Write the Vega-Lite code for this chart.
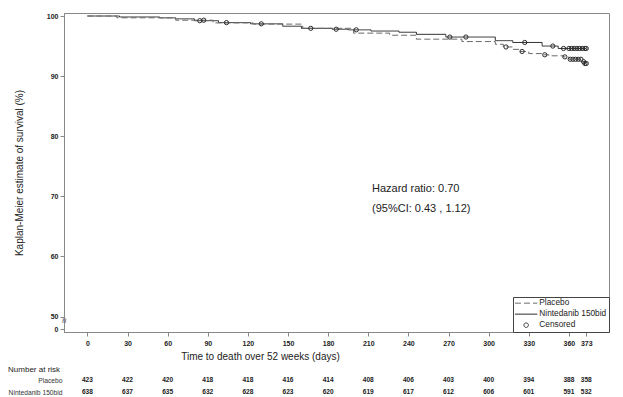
{
  "$schema": "https://vega.github.io/schema/vega-lite/v6.json",
  "padding": {"left": 8, "top": 11, "right": 10, "bottom": 0},
  "background": "white",
  "bounds": "flush",
  "spacing": 42,
  "config": {
    "font": "Liberation Sans",
    "view": {"stroke": null},
    "axis": {"grid": false, "domainColor": "#888", "tickColor": "#888", "labelColor": "#222", "titleColor": "#222", "titleFontWeight": "normal", "labelFlush": false, "labelOverlap": false},
    "legend": {"title": null, "orient": "bottom-right", "offset": 0, "padding": 2, "strokeColor": "#444", "fillColor": "white", "labelFontSize": 8.3, "labelColor": "#222", "symbolSize": 20, "symbolStrokeWidth": 1, "symbolOffset": 7, "labelOffset": 9, "rowPadding": 2, "symbolFillColor": "white"}
  },
  "resolve": {
    "scale": {"color": "independent", "strokeDash": "independent", "shape": "independent"},
    "legend": {"color": "independent", "strokeDash": "independent", "shape": "independent"}
  },
  "datasets": {
    "curves": [
      {"group": "Nintedanib 150bid", "day": 0, "surv": 100},
      {"group": "Nintedanib 150bid", "day": 24, "surv": 99.84},
      {"group": "Nintedanib 150bid", "day": 54, "surv": 99.69},
      {"group": "Nintedanib 150bid", "day": 66, "surv": 99.53},
      {"group": "Nintedanib 150bid", "day": 80, "surv": 99.22},
      {"group": "Nintedanib 150bid", "day": 98, "surv": 98.9},
      {"group": "Nintedanib 150bid", "day": 122, "surv": 98.7},
      {"group": "Nintedanib 150bid", "day": 146, "surv": 98.3},
      {"group": "Nintedanib 150bid", "day": 160, "surv": 97.95},
      {"group": "Nintedanib 150bid", "day": 183, "surv": 97.8},
      {"group": "Nintedanib 150bid", "day": 195, "surv": 97.7},
      {"group": "Nintedanib 150bid", "day": 212, "surv": 97.5},
      {"group": "Nintedanib 150bid", "day": 233, "surv": 97.3},
      {"group": "Nintedanib 150bid", "day": 246, "surv": 96.95},
      {"group": "Nintedanib 150bid", "day": 268, "surv": 96.5},
      {"group": "Nintedanib 150bid", "day": 305, "surv": 95.9},
      {"group": "Nintedanib 150bid", "day": 318, "surv": 95.6},
      {"group": "Nintedanib 150bid", "day": 340, "surv": 95.0},
      {"group": "Nintedanib 150bid", "day": 352, "surv": 94.6},
      {"group": "Nintedanib 150bid", "day": 373, "surv": 94.6},
      {"group": "Placebo", "day": 0, "surv": 100},
      {"group": "Placebo", "day": 22, "surv": 99.7},
      {"group": "Placebo", "day": 66, "surv": 99.3},
      {"group": "Placebo", "day": 94, "surv": 98.85},
      {"group": "Placebo", "day": 124, "surv": 98.65},
      {"group": "Placebo", "day": 161, "surv": 97.95},
      {"group": "Placebo", "day": 199, "surv": 97.15},
      {"group": "Placebo", "day": 226, "surv": 96.8},
      {"group": "Placebo", "day": 246, "surv": 96.15},
      {"group": "Placebo", "day": 280, "surv": 95.75},
      {"group": "Placebo", "day": 305, "surv": 95.3},
      {"group": "Placebo", "day": 311, "surv": 94.85},
      {"group": "Placebo", "day": 318, "surv": 94.45},
      {"group": "Placebo", "day": 323, "surv": 94.1},
      {"group": "Placebo", "day": 330, "surv": 93.75},
      {"group": "Placebo", "day": 340, "surv": 93.55},
      {"group": "Placebo", "day": 345, "surv": 93.38},
      {"group": "Placebo", "day": 356, "surv": 93.2},
      {"group": "Placebo", "day": 360, "surv": 92.8},
      {"group": "Placebo", "day": 370, "surv": 92.4},
      {"group": "Placebo", "day": 372, "surv": 92.1},
      {"group": "Placebo", "day": 373, "surv": 92.1}
    ],
    "censored": [
      {"group": "Censored", "day": 84, "surv": 99.22},
      {"group": "Censored", "day": 104, "surv": 98.9},
      {"group": "Censored", "day": 130, "surv": 98.7},
      {"group": "Censored", "day": 167, "surv": 97.95},
      {"group": "Censored", "day": 186, "surv": 97.8},
      {"group": "Censored", "day": 201, "surv": 97.7},
      {"group": "Censored", "day": 271, "surv": 96.5},
      {"group": "Censored", "day": 283, "surv": 96.5},
      {"group": "Censored", "day": 327, "surv": 95.6},
      {"group": "Censored", "day": 348, "surv": 95.0},
      {"group": "Censored", "day": 356, "surv": 94.6},
      {"group": "Censored", "day": 360, "surv": 94.6},
      {"group": "Censored", "day": 362, "surv": 94.6},
      {"group": "Censored", "day": 364, "surv": 94.6},
      {"group": "Censored", "day": 366, "surv": 94.6},
      {"group": "Censored", "day": 368, "surv": 94.6},
      {"group": "Censored", "day": 370, "surv": 94.6},
      {"group": "Censored", "day": 372, "surv": 94.6},
      {"group": "Censored", "day": 373, "surv": 94.6},
      {"group": "Censored", "day": 87, "surv": 99.3},
      {"group": "Censored", "day": 313, "surv": 94.85},
      {"group": "Censored", "day": 325, "surv": 94.1},
      {"group": "Censored", "day": 342, "surv": 93.55},
      {"group": "Censored", "day": 357, "surv": 93.2},
      {"group": "Censored", "day": 361, "surv": 92.8},
      {"group": "Censored", "day": 363, "surv": 92.8},
      {"group": "Censored", "day": 365, "surv": 92.8},
      {"group": "Censored", "day": 367, "surv": 92.8},
      {"group": "Censored", "day": 369, "surv": 92.8},
      {"group": "Censored", "day": 371, "surv": 92.4},
      {"group": "Censored", "day": 372, "surv": 92.1},
      {"group": "Censored", "day": 373, "surv": 92.1}
    ],
    "notes": [
      {"label": "Hazard ratio: 0.70", "day": 212.8, "surv": 71.2},
      {"label": "(95%CI: 0.43 , 1.12)", "day": 212.8, "surv": 67.9}
    ],
    "axisbreak": [
      {"label": "≈", "day": -17.5, "surv": 49.3}
    ],
    "risk": [
      {"group": "Placebo", "day": 0, "n": 423},
      {"group": "Placebo", "day": 30, "n": 422},
      {"group": "Placebo", "day": 60, "n": 420},
      {"group": "Placebo", "day": 90, "n": 418},
      {"group": "Placebo", "day": 120, "n": 418},
      {"group": "Placebo", "day": 150, "n": 416},
      {"group": "Placebo", "day": 180, "n": 414},
      {"group": "Placebo", "day": 210, "n": 408},
      {"group": "Placebo", "day": 240, "n": 406},
      {"group": "Placebo", "day": 270, "n": 403},
      {"group": "Placebo", "day": 300, "n": 400},
      {"group": "Placebo", "day": 330, "n": 394},
      {"group": "Placebo", "day": 360, "n": 388},
      {"group": "Placebo", "day": 373, "n": 358},
      {"group": "Nintedanib 150bid", "day": 0, "n": 638},
      {"group": "Nintedanib 150bid", "day": 30, "n": 637},
      {"group": "Nintedanib 150bid", "day": 60, "n": 635},
      {"group": "Nintedanib 150bid", "day": 90, "n": 632},
      {"group": "Nintedanib 150bid", "day": 120, "n": 628},
      {"group": "Nintedanib 150bid", "day": 150, "n": 623},
      {"group": "Nintedanib 150bid", "day": 180, "n": 620},
      {"group": "Nintedanib 150bid", "day": 210, "n": 619},
      {"group": "Nintedanib 150bid", "day": 240, "n": 617},
      {"group": "Nintedanib 150bid", "day": 270, "n": 612},
      {"group": "Nintedanib 150bid", "day": 300, "n": 606},
      {"group": "Nintedanib 150bid", "day": 330, "n": 601},
      {"group": "Nintedanib 150bid", "day": 360, "n": 591},
      {"group": "Nintedanib 150bid", "day": 373, "n": 532}
    ]
  },
  "vconcat": [
    {
      "width": 545,
      "height": 319,
      "view": {"stroke": "#888", "strokeWidth": 1},
      "encoding": {
        "x": {"field": "day", "type": "quantitative", "scale": {"domain": [-17.5, 390], "nice": false, "zero": false},
          "axis": {"values": [0, 30, 60, 90, 120, 150, 180, 210, 240, 270, 300, 330, 360, 373], "title": "Time to death over 52 weeks (days)", "titleFontSize": 10, "titleX": 196, "titleAlign": "center", "titleAnchor": "start", "titlePadding": 5, "labelFontSize": 7, "labelFontWeight": "bold", "tickSize": 4, "labelPadding": 3}},
        "y": {"field": "surv", "type": "quantitative", "scale": {"domain": [47.43, 100.5], "nice": false, "zero": false},
          "axis": {"values": [47.9, 50, 60, 70, 80, 90, 100], "labelExpr": "datum.value < 49 ? '0' : datum.label", "title": "Kaplan-Meier estimate of survival (%)", "titleFontSize": 10, "titlePadding": 22, "labelFontSize": 7, "labelFontWeight": "bold", "tickSize": 4, "labelPadding": 2}}
      },
      "layer": [
        {
          "data": {"name": "curves"},
          "mark": {"type": "line", "interpolate": "step-after", "strokeWidth": 1},
          "encoding": {
            "color": {"field": "group", "type": "nominal", "scale": {"domain": ["Placebo", "Nintedanib 150bid", "Censored"], "range": ["#6a6a6a", "#2a2a2a", "#2a2a2a"]}, "legend": {"title": null}},
            "strokeDash": {"field": "group", "type": "nominal", "scale": {"domain": ["Placebo", "Nintedanib 150bid", "Censored"], "range": [[6, 3], [1, 0], [1, 0]]}, "legend": {"title": null}}
          }
        },
        {
          "data": {"name": "censored"},
          "mark": {"type": "point", "filled": false, "size": 18, "strokeWidth": 1, "opacity": 1},
          "encoding": {
            "color": {"field": "group", "type": "nominal", "scale": {"domain": ["Placebo", "Nintedanib 150bid", "Censored"], "range": ["#6a6a6a", "#2a2a2a", "#2a2a2a"]}, "legend": {"title": null}},
            "shape": {"field": "group", "type": "nominal", "scale": {"domain": ["Placebo", "Nintedanib 150bid", "Censored"], "range": ["M-5,0H5", "M-5,0H5", "circle"]}, "legend": {"title": null}}
          }
        },
        {
          "data": {"name": "notes"},
          "mark": {"type": "text", "align": "left", "baseline": "middle", "fontSize": 11, "color": "#222"},
          "encoding": {"text": {"field": "label"}}
        },
        {
          "data": {"name": "axisbreak"},
          "mark": {"type": "text", "align": "center", "baseline": "middle", "fontSize": 10, "angle": 90, "color": "#555"},
          "encoding": {"text": {"field": "label"}}
        }
      ]
    },
    {
      "width": 545,
      "height": 24,
      "view": {"stroke": null},
      "title": {"text": "Number at risk", "anchor": "start", "frame": "bounds", "fontSize": 8, "fontWeight": "normal", "offset": 0, "color": "#222"},
      "data": {"name": "risk"},
      "mark": {"type": "text", "fontSize": 6.6, "fontWeight": "bold", "color": "#222"},
      "encoding": {
        "x": {"field": "day", "type": "quantitative", "scale": {"domain": [-17.5, 390], "nice": false, "zero": false}, "axis": null},
        "y": {"field": "group", "type": "nominal", "sort": ["Placebo", "Nintedanib 150bid"], "axis": {"title": null, "domain": false, "ticks": false, "tickSize": 0, "labelFontSize": 6.7, "labelPadding": 2, "labelColor": "#333"}},
        "text": {"field": "n", "type": "quantitative"}
      }
    }
  ]
}
